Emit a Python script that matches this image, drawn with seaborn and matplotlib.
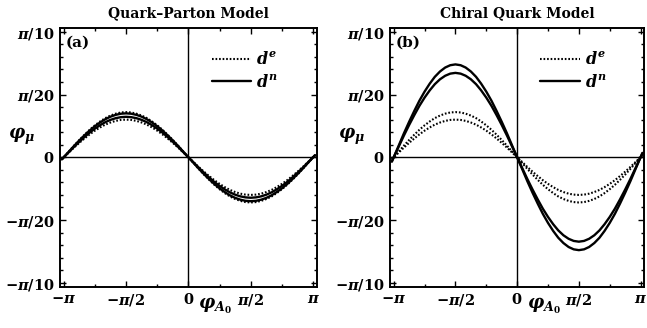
import numpy as np
import pandas as pd
import seaborn as sns
import matplotlib
matplotlib.use("Agg")
import matplotlib.pyplot as plt
from matplotlib.ticker import FixedLocator, MultipleLocator

sns.set_style("ticks")
plt.rcParams.update({
    "font.family": ["DejaVu Serif"],
    "font.weight": "bold",
    "text.color": "black",
    "axes.labelcolor": "black",
    "mathtext.fontset": "custom",
    "mathtext.rm": "DejaVu Serif:bold",
    "mathtext.it": "DejaVu Serif:italic:bold",
    "mathtext.bf": "DejaVu Serif:bold",
})

# phase of A0 in units of pi
x_pi = [-1.015, -0.958, -0.917, -0.875, -0.833, -0.792, -0.75, -0.708, -0.667,
        -0.625, -0.583, -0.542, -0.5, -0.458, -0.417, -0.375, -0.333, -0.292,
        -0.25, -0.208, -0.167, -0.125, -0.083, -0.042, 0.0, 0.042, 0.083,
        0.125, 0.167, 0.208, 0.25, 0.292, 0.333, 0.375, 0.417, 0.458, 0.5,
        0.542, 0.583, 0.625, 0.667, 0.708, 0.75, 0.792, 0.833, 0.875, 0.917,
        0.958, 1.015]

# phase of the muon, in units of pi/20
# electron-type contribution (band edges), same in both models
de_upper = [-0.034, 0.094, 0.186, 0.276, 0.36, 0.438, 0.509, 0.571, 0.624,
            0.665, 0.695, 0.714, 0.72, 0.714, 0.695, 0.665, 0.624, 0.571,
            0.509, 0.438, 0.36, 0.276, 0.186, 0.094, 0.0, -0.094, -0.186,
            -0.276, -0.36, -0.438, -0.509, -0.571, -0.624, -0.665, -0.695,
            -0.714, -0.72, -0.714, -0.695, -0.665, -0.624, -0.571, -0.509,
            -0.438, -0.36, -0.276, -0.186, -0.094, 0.034]
de_lower = [-0.028, 0.078, 0.155, 0.23, 0.3, 0.365, 0.424, 0.476, 0.52,
            0.554, 0.58, 0.595, 0.6, 0.595, 0.58, 0.554, 0.52, 0.476,
            0.424, 0.365, 0.3, 0.23, 0.155, 0.078, 0.0, -0.078, -0.155,
            -0.23, -0.3, -0.365, -0.424, -0.476, -0.52, -0.554, -0.58,
            -0.595, -0.6, -0.595, -0.58, -0.554, -0.52, -0.476, -0.424,
            -0.365, -0.3, -0.23, -0.155, -0.078, 0.028]
# neutron-type contribution, quark-parton model
dn_qp_upper = [-0.033, 0.091, 0.181, 0.268, 0.35, 0.426, 0.495, 0.555, 0.606,
               0.647, 0.676, 0.694, 0.70, 0.694, 0.676, 0.647, 0.606, 0.555,
               0.495, 0.426, 0.35, 0.268, 0.181, 0.091, 0.0, -0.091, -0.181,
               -0.268, -0.35, -0.426, -0.495, -0.555, -0.606, -0.647, -0.676,
               -0.694, -0.70, -0.694, -0.676, -0.647, -0.606, -0.555, -0.495,
               -0.426, -0.35, -0.268, -0.181, -0.091, 0.033]
dn_qp_lower = [-0.030, 0.084, 0.167, 0.247, 0.323, 0.393, 0.456, 0.512, 0.559,
               0.596, 0.623, 0.639, 0.645, 0.639, 0.623, 0.596, 0.559, 0.512,
               0.456, 0.393, 0.323, 0.247, 0.167, 0.084, 0.0, -0.084, -0.167,
               -0.247, -0.323, -0.393, -0.456, -0.512, -0.559, -0.596, -0.623,
               -0.639, -0.645, -0.639, -0.623, -0.596, -0.559, -0.512, -0.456,
               -0.393, -0.323, -0.247, -0.167, -0.084, 0.030]
# neutron-type contribution, chiral quark model
dn_cq_upper = [-0.070, 0.193, 0.383, 0.566, 0.74, 0.901, 1.046, 1.174, 1.282,
               1.367, 1.43, 1.467, 1.48, 1.467, 1.43, 1.367, 1.282, 1.174,
               1.046, 0.901, 0.74, 0.566, 0.383, 0.193, 0.0, -0.193, -0.383,
               -0.566, -0.74, -0.901, -1.046, -1.174, -1.282, -1.367, -1.43,
               -1.467, -1.48, -1.467, -1.43, -1.367, -1.282, -1.174, -1.046,
               -0.901, -0.74, -0.566, -0.383, -0.193, 0.070]
dn_cq_lower = [-0.063, 0.176, 0.348, 0.515, 0.673, 0.819, 0.951, 1.067, 1.165,
               1.243, 1.299, 1.333, 1.345, 1.333, 1.299, 1.243, 1.165, 1.067,
               0.951, 0.819, 0.673, 0.515, 0.348, 0.176, 0.0, -0.176, -0.348,
               -0.515, -0.673, -0.819, -0.951, -1.067, -1.165, -1.243, -1.299,
               -1.333, -1.345, -1.333, -1.299, -1.243, -1.165, -1.067, -0.951,
               -0.819, -0.673, -0.515, -0.348, -0.176, 0.063]

titles = ["Quark\u2013Parton Model", "Chiral Quark Model"]
panel_tags = ["(a)", "(b)"]
xtick_vals = [-1, -0.5, 0, 0.5, 1]
xtick_labels = [r"$-\pi$", r"$-\pi/2$", r"$0$", r"$\pi/2$", r"$\pi$"]
ytick_vals = [-2, -1, 0, 1, 2]
ytick_labels = [r"$-\pi/10$", r"$-\pi/20$", r"$0$", r"$\pi/20$", r"$\pi/10$"]

panels = [
    {"de": [de_upper, de_lower], "dn": [dn_qp_upper, dn_qp_lower]},
    {"de": [de_upper, de_lower], "dn": [dn_cq_upper, dn_cq_lower]},
]

X = np.array(x_pi) * np.pi
YU = np.pi / 20

fig = plt.figure(figsize=(6.47, 3.28), dpi=100)
axes = [fig.add_axes([0.0927, 0.126, 0.397, 0.789]),
        fig.add_axes([0.6028, 0.126, 0.393, 0.789])]

dot_style = (0, (0.8, 0.9))
for ax, pdata, title, tag in zip(axes, panels, titles, panel_tags):
    ax.axhline(0, color="black", lw=1.0, zorder=1)
    ax.axvline(0, color="black", lw=1.0, zorder=1)
    handles = {}
    for kind, style, lw in (("de", dot_style, 1.5), ("dn", "-", 1.7)):
        for curve in pdata[kind]:
            df = pd.DataFrame({"x": X, "y": np.array(curve) * YU})
            sns.lineplot(data=df, x="x", y="y", ax=ax, color="black", lw=lw,
                         linestyle=style, estimator=None, sort=False, zorder=3)
            handles[kind] = ax.lines[-1]
    ax.set_xlim(-1.03 * np.pi, 1.03 * np.pi)
    ax.set_ylim(-1.031 * np.pi / 10, 1.031 * np.pi / 10)
    ax.xaxis.set_major_locator(FixedLocator(np.array(xtick_vals) * np.pi))
    ax.set_xticklabels(xtick_labels)
    ax.xaxis.set_minor_locator(MultipleLocator(np.pi / 4))
    ax.yaxis.set_major_locator(FixedLocator(np.array(ytick_vals) * YU))
    ax.set_yticklabels(ytick_labels)
    ax.yaxis.set_minor_locator(MultipleLocator(np.pi / 100))
    ax.tick_params(which="both", direction="in", top=True, right=True,
                   colors="black", width=1.0, labelsize=10.5)
    ax.tick_params(which="major", length=4, pad=4)
    ax.tick_params(which="minor", length=2.5)
    for s in ax.spines.values():
        s.set_linewidth(1.4)
        s.set_color("black")
    ax.set_xlabel("")
    ax.set_ylabel("")
    ax.set_title(title, fontsize=10, fontweight="bold", color="black", pad=8)
    ax.text(0.022, 0.942, tag, transform=ax.transAxes, fontsize=11,
            fontweight="bold", color="black", va="center", ha="left")
    ax.text(-0.15, 0.58, r"$\varphi_\mu$", transform=ax.transAxes,
            fontsize=13, color="black", va="center", ha="center")
    ax.text(0.605, -0.075, r"$\varphi_{A_0}$", transform=ax.transAxes,
            fontsize=13, color="black", va="center", ha="center")
    leg = ax.legend([handles["de"], handles["dn"]], [r"$d^e$", r"$d^n$"],
                    loc="upper left", bbox_to_anchor=(0.59, 0.91), frameon=False,
                    fontsize=11.5, handlelength=2.5, handletextpad=0.3,
                    borderpad=0, borderaxespad=0, labelspacing=0.35)
    for t in leg.get_texts():
        t.set_color("black")

fig.savefig("out.png", dpi=100)
